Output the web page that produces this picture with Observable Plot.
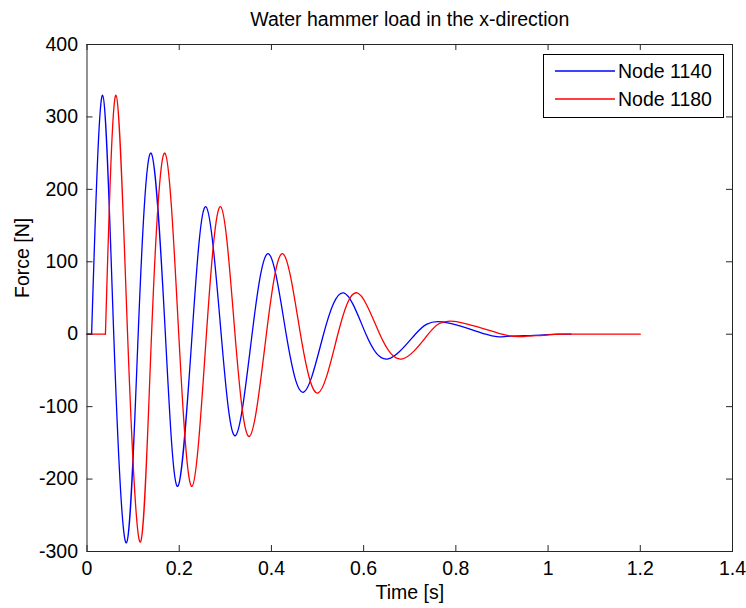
<!DOCTYPE html>
<html><head><meta charset="utf-8">
<script src="https://cdn.jsdelivr.net/npm/d3@7"></script>
<script src="https://cdn.jsdelivr.net/npm/@observablehq/plot@0.6"></script>
<style>body{margin:0;background:#fff;} svg{display:block;}</style>
</head><body><div id="chart"></div>
<script>
// ---- data ----
const titleText = "Water hammer load in the x-direction";
const xLabelText = "Time [s]";
const yLabelText = "Force [N]";
const seriesNames = ["Node 1140", "Node 1180"];
const seriesColors = ["#0000ff", "#ff0000"];
const seriesOnsets = [0.01, 0.04];

const node1140Time  = [0, 0.01, 0.034, 0.058, 0.0857, 0.111, 0.139, 0.170, 0.197, 0.228, 0.258, 0.291, 0.322, 0.358, 0.394, 0.432, 0.470, 0.513, 0.557, 0.605, 0.653, 0.712, 0.770, 0.865, 0.91, 0.97, 1.02, 1.05];
const node1140Force = [0, 0,    330,   0,     -288,   0,     250,   0,     -210,  0,     176,   0,     -140,  0,     111,   0,     -80,   0,     57,    0,     -34,   0,     17,    0,     -3,   -1.5, 0,    0];

const node1180Time  = [0, 0.04, 0.063, 0.088, 0.116, 0.140, 0.169, 0.199, 0.228, 0.259, 0.290, 0.321, 0.3525, 0.389, 0.425, 0.463, 0.5015, 0.544, 0.586, 0.635, 0.684, 0.740, 0.796, 0.90, 0.95, 0.99, 1.04, 1.2];
const node1180Force = [0, 0,    330,   0,     -287,  0,     250,   0,     -210,  0,     176,   0,     -141,   0,     111,   0,     -81,    0,     57,    0,     -34,   0,     17.7,  0,    -3,   -1.5, 0,    0];

const xTickValues = [0, 0.2, 0.4, 0.6, 0.8, 1, 1.2, 1.4];
const xTickLabels = ["0", "0.2", "0.4", "0.6", "0.8", "1", "1.2", "1.4"];
const yTickValues = [-300, -200, -100, 0, 100, 200, 300, 400];
const yTickLabels = ["-300", "-200", "-100", "0", "100", "200", "300", "400"];

// ---- layout ----
const W = 746, H = 608;
const mL = 86.5, mR = 14, mT = 44, mB = 57;
const fw = W - mL - mR, fh = H - mT - mB;
const tickLen = 6;
const fontSize = 19.5;
const axisColor = "#262626";

const seriesTimes = [node1140Time, node1180Time];
const seriesForces = [node1140Force, node1180Force];
const rows = seriesNames.map((name, s) => seriesTimes[s].map((t, i) => ({t, f: seriesForces[s][i], name})));

const lineMarks = [];
rows.forEach((r, s) => {
  lineMarks.push(Plot.line(r.filter(d => d.t <= seriesOnsets[s]), {x: "t", y: "f", stroke: seriesColors[s], strokeWidth: 1.3}));
  lineMarks.push(Plot.line(r.filter(d => d.t >= seriesOnsets[s]), {x: "t", y: "f", stroke: seriesColors[s], strokeWidth: 1.3, curve: "natural"}));
});

const svg = Plot.plot({
  width: W, height: H,
  marginLeft: mL, marginRight: mR, marginTop: mT, marginBottom: mB,
  style: {fontFamily: "'Liberation Sans', Arial, sans-serif", fontSize: fontSize + "px", background: "#fff", color: "#000"},
  x: {domain: [0, 1.4]},
  y: {domain: [-300, 400]},
  marks: [
    ...lineMarks,
    Plot.frame({stroke: axisColor, strokeWidth: 1}),
    Plot.tickX(xTickValues, {x: d => d, insetBottom: fh - tickLen, stroke: axisColor}),
    Plot.tickX(xTickValues, {x: d => d, insetTop: fh - tickLen, stroke: axisColor}),
    Plot.tickY(yTickValues, {y: d => d, insetRight: fw - tickLen, stroke: axisColor}),
    Plot.tickY(yTickValues, {y: d => d, insetLeft: fw - tickLen, stroke: axisColor}),
    Plot.axisX(xTickValues, {tickSize: 0, tickPadding: 10, tickFormat: d => xTickLabels[xTickValues.indexOf(d)], label: null, fontSize}),
    Plot.axisY(yTickValues, {tickSize: 0, tickPadding: 9, tickFormat: d => yTickLabels[yTickValues.indexOf(d)], label: null, fontSize}),
    Plot.text([titleText], {text: d => d, frameAnchor: "top", dy: -25, lineAnchor: "middle", fontSize}),
    Plot.text([xLabelText], {text: d => d, frameAnchor: "bottom", dy: 41, lineAnchor: "middle", fontSize}),
    Plot.text([yLabelText], {text: d => d, frameAnchor: "left", dx: -64, rotate: -90, lineAnchor: "middle", fontSize})
  ]
});

// ---- legend ----
const g = d3.select(svg).append("g")
  .attr("font-family", "'Liberation Sans', Arial, sans-serif")
  .attr("font-size", fontSize)
  .attr("text-anchor", "start");
const lx = 543.5, ly = 54.5, lw = 180, lh = 63;
g.append("rect").attr("x", lx).attr("y", ly).attr("width", lw).attr("height", lh)
  .attr("fill", "#fff").attr("stroke", "#000").attr("stroke-width", 1);
seriesNames.forEach((name, i) => {
  const yy = 71 + i * 28;
  g.append("line").attr("x1", 555).attr("x2", 615).attr("y1", yy).attr("y2", yy)
    .attr("stroke", seriesColors[i]).attr("stroke-width", 1.3);
  g.append("text").attr("x", 618).attr("y", yy).attr("dy", "0.35em")
    .attr("text-anchor", "start").attr("fill", "#000").text(name);
});

document.getElementById("chart").appendChild(svg);
</script>
</body></html>
